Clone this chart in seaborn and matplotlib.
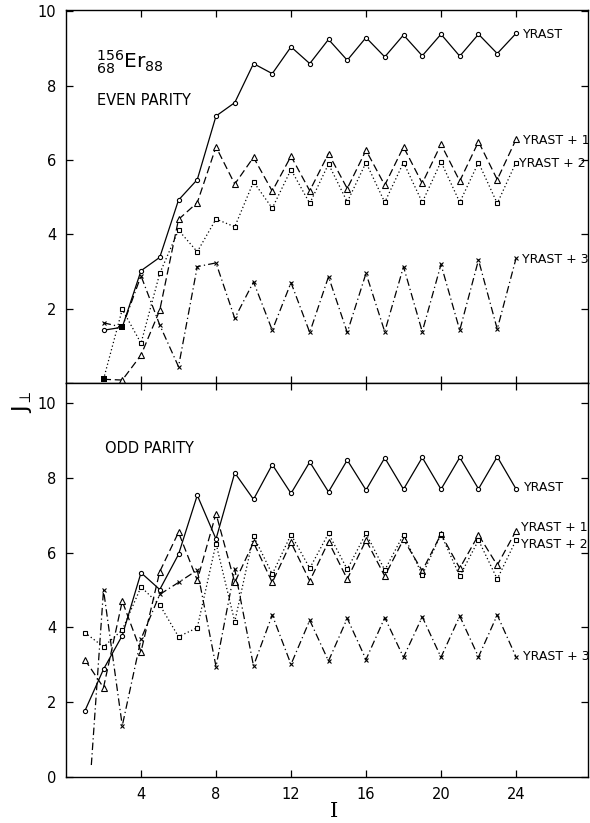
import numpy as np
import pandas as pd
import seaborn as sns
import matplotlib.pyplot as plt

sns.set_style('ticks', {'axes.edgecolor': 'black', 'text.color': 'black',
                        'xtick.color': 'black', 'ytick.color': 'black'})
plt.rcParams['font.family'] = ['DejaVu Sans']

# ---- even parity (top panel), I = 2..24
I_even = list(range(2, 25))
yrast_even = [1.42, 1.50, 3.02, 3.38, 4.92, 5.47, 7.18, 7.54, 8.59, 8.32, 9.04, 8.59,
              9.24, 8.68, 9.29, 8.77, 9.36, 8.80, 9.38, 8.79, 9.38, 8.86, 9.40]
yrast1_even = [0.10, 0.08, 0.75, 1.96, 4.40, 4.85, 6.35, 5.35, 6.07, 5.16, 6.10, 5.17,
               6.17, 5.23, 6.26, 5.32, 6.35, 5.37, 6.42, 5.43, 6.49, 5.47, 6.55]
yrast2_even = [0.10, 1.98, 1.07, 2.95, 4.11, 3.53, 4.41, 4.20, 5.41, 4.70, 5.74, 4.83,
               5.89, 4.87, 5.93, 4.86, 5.93, 4.86, 5.95, 4.86, 5.93, 4.83, 5.93]
yrast3_even = [1.62, 1.50, 2.88, 1.56, 0.44, 3.13, 3.23, 1.74, 2.72, 1.42, 2.70, 1.36,
               2.86, 1.36, 2.95, 1.38, 3.13, 1.38, 3.19, 1.42, 3.31, 1.45, 3.35]
# points shared by two bands (drawn as filled squares)
shared_I = [2, 3]
shared_J = [0.10, 1.50]

# ---- odd parity (bottom panel), I = 1..24
I_odd = list(range(1, 25))
yrast_odd = [1.76, 2.88, 3.78, 5.46, 5.01, 5.95, 7.53, 6.36, 8.13, 7.42, 8.35, 7.58,
             8.42, 7.62, 8.47, 7.67, 8.53, 7.69, 8.54, 7.69, 8.54, 7.70, 8.56, 7.70]
yrast1_odd = [3.14, 2.39, 4.70, 3.35, 5.49, 6.54, 5.26, 7.04, 5.20, 6.27, 5.20, 6.27,
              5.24, 6.29, 5.29, 6.33, 5.37, 6.35, 5.51, 6.49, 5.58, 6.47, 5.66, 6.58]
yrast2_odd = [3.86, 3.48, 3.93, 5.08, 4.60, 3.75, 3.99, 6.24, 4.15, 6.44, 5.42, 6.48,
              5.58, 6.51, 5.55, 6.51, 5.53, 6.48, 5.40, 6.49, 5.37, 6.33, 5.29, 6.33]
I_odd3 = [1.35] + list(range(2, 25))
yrast3_odd = [0.32, 5.00, 1.37, 3.69, 4.88, 5.20, 5.53, 2.95, 5.55, 2.97, 4.33, 3.01,
              4.19, 3.10, 4.24, 3.14, 4.26, 3.20, 4.28, 3.20, 4.30, 3.21, 4.33, 3.21]

styles = {
    'YRAST': dict(linestyle='-', marker='o', markersize=3.0),
    'YRAST + 1': dict(linestyle=(0, (6, 3)), marker='^', markersize=4.0),
    'YRAST + 2': dict(linestyle=(0, (1, 2)), marker='s', markersize=3.0),
    'YRAST + 3': dict(linestyle=(0, (6, 2.5, 1, 2.5)), marker='x', markersize=3.5),
}


def draw_band(ax, I, J, band, skip=()):
    keep = [k for k in range(len(I)) if k not in skip]
    sns.lineplot(x=I, y=J, ax=ax, color='black', linewidth=0.9, sort=False,
                 estimator=None, markerfacecolor='white', markeredgecolor='black',
                 markeredgewidth=0.8, markevery=keep, **styles[band])


fig = plt.figure(figsize=(5.9, 8.23), dpi=100)
ax_top = fig.add_axes([0.1119, 0.5346, 0.8847, 0.4532])
ax_bot = fig.add_axes([0.1119, 0.0559, 0.8847, 0.4787], sharex=ax_top)

draw_band(ax_top, I_even, yrast_even, 'YRAST', skip=(1,))
draw_band(ax_top, I_even, yrast1_even, 'YRAST + 1', skip=(0,))
draw_band(ax_top, I_even, yrast2_even, 'YRAST + 2', skip=(0,))
draw_band(ax_top, I_even, yrast3_even, 'YRAST + 3', skip=(1,))
sns.scatterplot(x=shared_I, y=shared_J, ax=ax_top, marker='s', color='black', s=20,
                zorder=5, linewidth=0)

draw_band(ax_bot, I_odd, yrast_odd, 'YRAST')
draw_band(ax_bot, I_odd, yrast1_odd, 'YRAST + 1')
draw_band(ax_bot, I_odd, yrast2_odd, 'YRAST + 2')
draw_band(ax_bot, I_odd3, yrast3_odd, 'YRAST + 3', skip=(0,))

# band labels
lab_fs = 9
ax_top.text(24.35, 9.37, 'YRAST', fontsize=lab_fs, va='center')
ax_top.text(24.4, 6.53, 'YRAST + 1', fontsize=lab_fs, va='center')
ax_top.text(24.15, 5.90, 'YRAST + 2', fontsize=lab_fs, va='center')
ax_top.text(24.3, 3.32, 'YRAST + 3', fontsize=lab_fs, va='center')
ax_bot.text(24.4, 7.75, 'YRAST', fontsize=lab_fs, va='center')
ax_bot.text(24.25, 6.67, 'YRAST + 1', fontsize=lab_fs, va='center')
ax_bot.text(24.25, 6.22, 'YRAST + 2', fontsize=lab_fs, va='center')
ax_bot.text(24.4, 3.21, 'YRAST + 3', fontsize=lab_fs, va='center')

ax_top.text(1.62, 8.47, r'${}^{156}_{68}\mathrm{Er}_{88}$', fontsize=14.5, va='baseline')
ax_top.text(1.67, 7.48, 'EVEN PARITY', fontsize=10.5, va='baseline')
ax_bot.text(2.1, 8.66, 'ODD PARITY', fontsize=10.5, va='baseline')

for ax in (ax_top, ax_bot):
    ax.set_xlim(0, 27.84)
    ax.set_xticks([4, 8, 12, 16, 20, 24])
    ax.tick_params(direction='in', top=True, right=True, length=5, width=0.9,
                   labelsize=10.5, pad=7, colors='black')
    for sp in ax.spines.values():
        sp.set_linewidth(1.0)
        sp.set_color('black')
    ax.set_xlabel('')
    ax.set_ylabel('')

ax_top.set_ylim(0, 10.03)
ax_top.set_yticks([0, 2, 4, 6, 8, 10])
ax_top.set_yticklabels(['', '2', '4', '6', '8', '10'])
ax_top.tick_params(labelbottom=False)

ax_bot.set_ylim(0, 10.53)
ax_bot.set_yticks([0, 2, 4, 6, 8, 10])

fig.text(0.037, 0.512, r'$\mathrm{J}_{\perp}$', rotation=90, fontsize=16,
         ha='center', va='center')
fig.text(0.566, 0.002, 'I', fontsize=15, family='DejaVu Serif', ha='center',
         va='bottom')

fig.savefig('out.png', dpi=100)
